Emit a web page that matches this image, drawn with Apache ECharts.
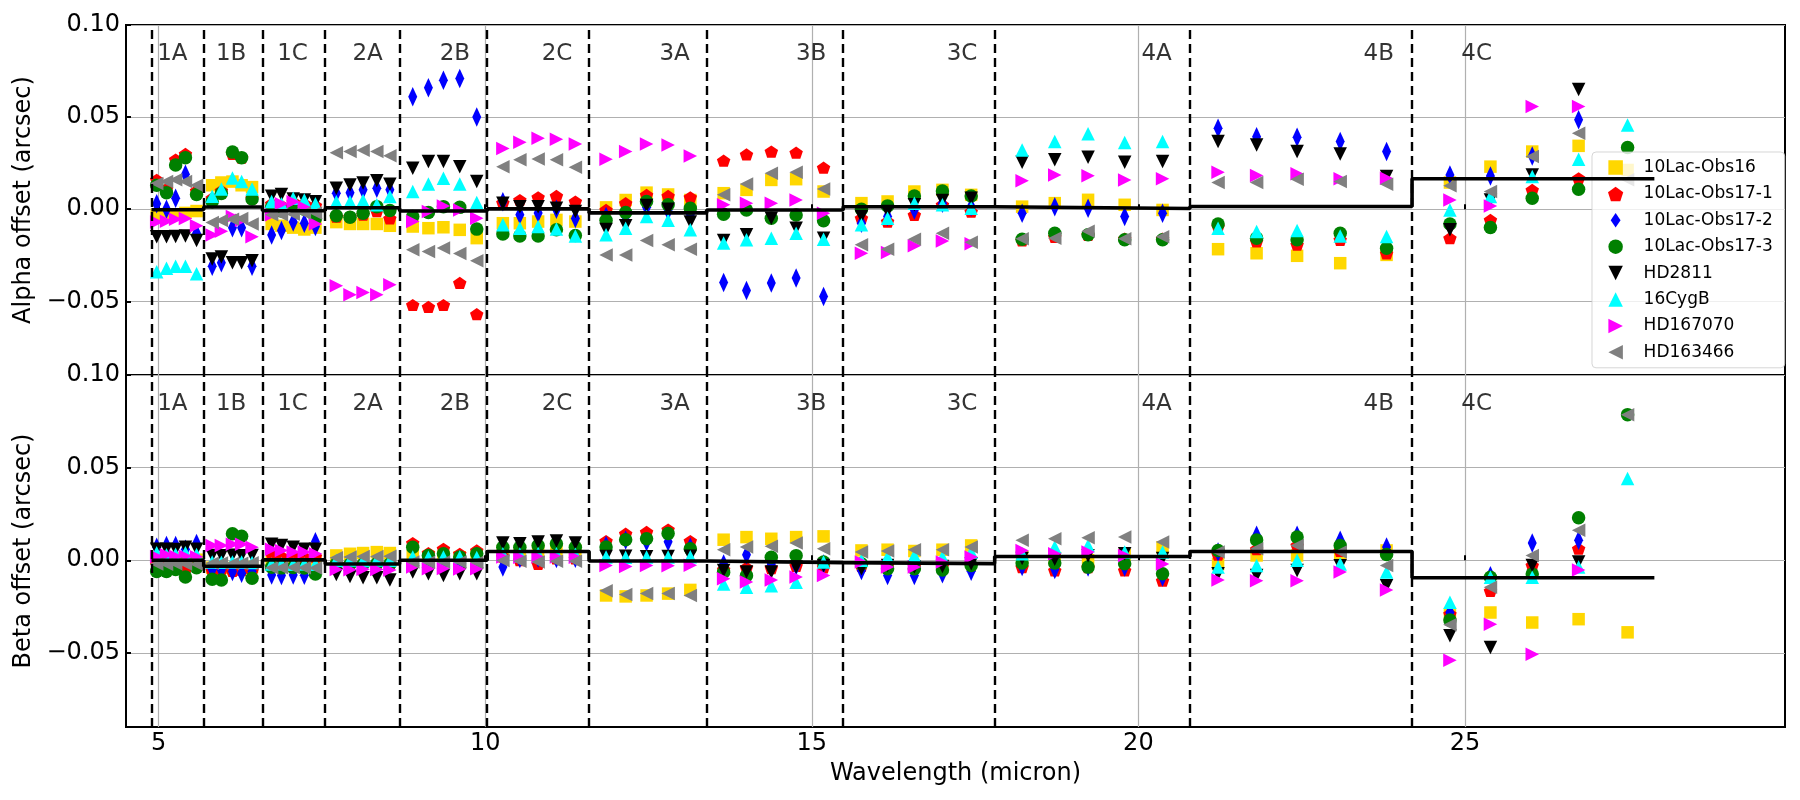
<!DOCTYPE html>
<html><head><meta charset="utf-8">
<script src="https://cdn.jsdelivr.net/npm/echarts@6/dist/echarts.min.js"></script>
<style>html,body{margin:0;padding:0;background:#fff}#chart{width:1800px;height:800px}</style>
</head><body><div id="chart"></div>
<script>
// ---------------- data ----------------
const seriesNames = ['10Lac-Obs16','10Lac-Obs17-1','10Lac-Obs17-2','10Lac-Obs17-3','HD2811','16CygB','HD167070','HD163466'];
const bandNames = ['1A','1B','1C','2A','2B','2C','3A','3B','3C','4A','4B','4C'];
const bandEdges = [4.89,5.69,6.59,7.55,8.69,10.03,11.59,13.39,15.48,17.80,20.79,24.19,27.90];
const bandLabelX = [5.21,6.11,7.05,8.20,9.535,11.10,12.90,14.99,17.30,20.28,23.68,25.18];
const bandLabelY = 0.0845;
const xTicks = [5,10,15,20,25];
const yTicks = [-0.05,0,0.05,0.10];

const wavelength = [
 4.97,5.12,5.26,5.41,5.58,  5.82,5.96,6.13,6.27,6.43,  6.73,6.88,7.06,7.23,7.40,
 7.72,7.93,8.13,8.34,8.54,  8.89,9.13,9.36,9.61,9.87,  10.27,10.53,10.81,11.09,11.38,
 11.85,12.15,12.47,12.80,13.14,  13.65,14.00,14.38,14.76,15.18,  15.76,16.16,16.57,17.00,17.44,
 18.22,18.72,19.23,19.79,20.37,  21.22,21.81,22.43,23.09,23.80,  24.77,25.39,26.03,26.74,27.49];

// Alpha offsets (arcsec)
const alphaObs16 = [
 -0.003,-0.003,-0.003,-0.002,-0.001,  0.013,0.0145,0.015,0.013,0.012,  -0.008,-0.009,-0.010,-0.011,-0.010,
 -0.007,-0.008,-0.008,-0.008,-0.009,  -0.0094,-0.0103,-0.0098,-0.0112,-0.0157,  -0.0076,-0.0076,-0.0067,-0.0058,-0.0067,
 0.001,0.005,0.009,0.008,0.005,  0.0087,0.0105,0.0159,0.0163,0.0096,  0.0033,0.0042,0.0096,0.0105,0.0078,
 0.0014,0.0033,0.0051,0.0024,-0.0004,  -0.0217,-0.0239,-0.0253,-0.0293,-0.0248,  0.0145,0.0231,0.0313,0.0344,0.0213];
const alphaObs17_1 = [
 0.016,0.011,0.027,0.030,0.010,  0.006,0.010,0.030,0.028,0.006,  0.003,0.002,0.004,0.003,0.002,
 -0.004,-0.004,-0.003,-0.001,-0.005,  -0.052,-0.053,-0.052,-0.040,-0.057,  0.0036,0.005,0.0065,0.0072,0.0042,
 -0.0004,0.0033,0.0078,0.0072,0.0065,  0.0264,0.0298,0.0313,0.0307,0.0226,  -0.0049,-0.0067,-0.0031,0.0024,-0.0013,
 -0.017,-0.015,-0.014,-0.016,-0.016,  -0.0094,-0.0175,-0.0193,-0.0166,-0.0240,  -0.0157,-0.0058,0.0105,0.0168,null];
const alphaObs17_2 = [
 0.003,0.000,0.006,0.019,-0.013,  -0.031,-0.029,-0.010,-0.010,-0.031,  -0.014,-0.0116,-0.007,-0.0076,-0.0094,
 0.0087,0.009,0.0105,0.0114,0.0105,  0.061,0.066,0.070,0.071,0.050,  0.004,-0.003,-0.002,0.000,-0.005,
 -0.004,-0.004,0.001,-0.001,-0.003,  -0.0398,-0.0441,-0.0401,-0.0374,-0.0474,  -0.0076,-0.004,-0.0004,0.0033,0.0014,
 -0.0022,0.0014,0.0005,-0.004,-0.0022,  0.0439,0.0394,0.039,0.0367,0.0313,  0.0186,0.0180,0.0289,0.0485,null];
const alphaObs17_3 = [
 0.013,0.009,0.024,0.028,0.008,  0.004,0.0085,0.031,0.028,0.0055,  0.001,-0.001,0.002,0.000,-0.005,
 -0.0036,-0.0043,-0.0022,0.0014,-0.0007,  -0.004,-0.0018,0.0014,0.001,-0.0108,  -0.0134,-0.0145,-0.0145,-0.0112,-0.0143,
 -0.006,-0.0018,0.0042,0.0024,0.0005,  -0.0027,-0.0004,-0.0049,-0.0031,-0.0063,  0.000,0.0018,0.0072,0.0099,0.0072,
 -0.0163,-0.013,-0.0139,-0.0166,-0.0166,  -0.008,-0.0157,-0.0166,-0.013,-0.0212,  -0.008,-0.0099,0.006,0.0108,0.0335];
const alphaHD2811 = [
 -0.015,-0.015,-0.0148,-0.0146,-0.017,  -0.027,-0.026,-0.029,-0.029,-0.028,  0.007,0.008,0.0055,0.005,0.004,
 0.0114,0.0132,0.0142,0.0155,0.0135,  0.0222,0.0259,0.0259,0.0231,0.015,  0.0033,0.0014,0.0014,0.0005,-0.0013,
 -0.011,-0.009,0.002,0.000,-0.007,  -0.017,-0.0139,-0.0049,-0.0103,-0.0157,  -0.004,-0.0013,0.0024,0.0047,0.006,
 0.0255,0.0268,0.0282,0.0255,0.0259,  0.0367,0.0349,0.0313,0.030,0.0177,  -0.0112,0.005,0.0186,0.065,null];
const alpha16CygB = [
 -0.034,-0.032,-0.031,-0.031,-0.035,  0.007,0.011,0.017,0.015,0.011,  0.0042,0.003,0.006,0.005,0.003,
 0.004,0.004,0.0047,0.0024,0.0069,  0.0096,0.0137,0.0168,0.0137,0.0036,  -0.0085,-0.0103,-0.0094,-0.0108,-0.0145,
 -0.0139,-0.0103,-0.004,-0.006,-0.0112,  -0.0184,-0.0166,-0.0157,-0.013,-0.0163,  -0.0085,-0.0049,0.0033,0.0024,0.0005,
 0.0322,0.0367,0.0409,0.0362,0.0367,  -0.0103,-0.0121,-0.0116,-0.0145,-0.0148,  -0.0004,0.0069,0.0177,0.0271,0.0457];
const alphaHD167070 = [
 -0.007,-0.0065,-0.0055,-0.005,-0.009,  -0.014,-0.012,-0.004,-0.006,-0.015,  -0.003,0.003,0.004,0.001,-0.008,
 -0.0416,-0.0465,-0.0452,-0.0465,-0.041,  -0.0067,-0.0013,0.0018,-0.0004,-0.0049,  0.033,0.0363,0.0385,0.038,0.0354,
 0.0271,0.0313,0.0354,0.0349,0.0289,  0.0024,0.0033,0.0033,0.005,-0.0022,  -0.0239,-0.0235,-0.0199,-0.0172,-0.0188,
 0.0154,0.0186,0.0181,0.0159,0.0165,  0.020,0.0183,0.0192,0.0165,0.0168,  0.005,0.0018,0.0557,0.0557,null];
const alphaHD163466 = [
 0.014,0.015,0.016,0.015,0.013,  -0.0072,-0.0061,-0.0054,-0.005,-0.008,  -0.003,-0.003,-0.0028,-0.002,-0.002,
 0.0307,0.0313,0.032,0.0313,0.029,  -0.022,-0.023,-0.021,-0.024,-0.028,  0.0231,0.0268,0.0273,0.0268,0.0228,
 -0.0248,-0.0248,-0.017,-0.0193,-0.0217,  0.0078,0.0137,0.0195,0.0201,0.011,  -0.0193,-0.0217,-0.0163,-0.013,-0.018,
 -0.016,-0.0157,-0.012,-0.016,-0.015,  0.0145,0.0145,0.0163,0.015,0.0136,  0.0127,0.0096,0.0286,0.0412,0.016];

// Beta offsets (arcsec)
const betaObs16 = [
 0.001,0.0012,0.001,0.000,0.0003,  -0.004,-0.0038,-0.0042,-0.004,-0.0036,  -0.001,-0.0012,-0.0008,-0.001,-0.0014,
 0.0026,0.0035,0.0039,0.0044,0.0039,  0.0022,0.0018,0.002,0.0016,0.0021,  0.005,0.0047,0.0052,0.0049,0.0051,
 -0.019,-0.0195,-0.019,-0.018,-0.016,  0.0111,0.0125,0.0116,0.0125,0.0129,  0.0053,0.0057,0.005,0.0057,0.008,
 0.002,0.001,0.000,0.003,0.007,  -0.002,0.0026,0.0026,0.0035,0.0053,  -0.029,-0.0282,-0.0336,-0.0318,-0.0389];
const betaObs17_1 = [
 -0.002,-0.003,-0.002,-0.005,-0.003,  -0.0055,-0.005,-0.0058,-0.0052,-0.0056,  0.0035,0.002,0.0022,0.0018,0.002,
 -0.002,-0.0018,-0.0022,-0.002,-0.0024,  0.0093,0.0039,0.0062,0.0035,0.0053,  0.002,0.000,-0.002,0.001,0.001,
 0.0104,0.0144,0.0153,0.0166,0.0104,  -0.005,-0.004,-0.0042,-0.003,-0.0038,  -0.003,-0.0028,-0.0032,-0.003,-0.0026,
 -0.0037,-0.0055,-0.0037,-0.0055,-0.011,  0.003,0.006,0.008,0.005,0.004,  -0.029,-0.0165,-0.0028,0.0062,null];
const betaObs17_2 = [
 0.007,0.008,0.008,0.006,0.009,  -0.005,-0.0052,-0.006,-0.007,-0.006,  -0.008,-0.0082,-0.0079,-0.0081,0.010,
 -0.0022,-0.002,-0.0018,-0.0021,-0.0019,  -0.0021,-0.0018,-0.0022,-0.002,-0.0017,  -0.0037,0.001,0.0012,0.0009,0.0011,
 0.008,0.011,0.010,0.010,0.007,  -0.002,0.003,-0.002,-0.003,-0.002,  -0.0055,-0.0082,-0.0082,-0.0073,-0.0059,
 -0.0034,-0.005,-0.0037,-0.0037,-0.009,  0.0044,0.0135,0.0135,0.0108,0.0071,  -0.0282,-0.0083,0.0093,0.0108,null];
const betaObs17_3 = [
 -0.006,-0.006,-0.005,-0.009,-0.004,  -0.0103,-0.0106,0.0143,0.013,-0.0097,  -0.0038,-0.0041,-0.0039,-0.0042,-0.0074,
 -0.0019,-0.0022,-0.0021,-0.0018,-0.002,  0.007,0.0026,0.0035,0.0017,0.0035,  0.007,0.007,0.008,0.0089,0.007,
 0.0071,0.0111,0.0116,0.0144,0.0062,  -0.0065,-0.0083,0.0016,0.0025,-0.001,  -0.0019,-0.0046,-0.0046,-0.0052,-0.0028,
 -0.0015,-0.0015,-0.0037,-0.0019,-0.0073,  0.0053,0.011,0.0125,0.008,0.0031,  -0.0323,-0.0092,-0.0074,0.023,0.0786];
const betaHD2811 = [
 0.006,0.006,0.0058,0.007,0.006,  0.0026,0.0024,0.0027,0.0025,0.0026,  0.0086,0.008,0.007,0.006,0.006,
 -0.0077,-0.0088,-0.0095,-0.0095,-0.0106,  -0.0064,-0.0073,-0.0082,-0.0073,-0.0073,  0.0093,0.0089,0.0098,0.0104,0.0093,
 0.002,0.0021,0.0019,0.002,0.0022,  -0.0055,-0.0064,-0.0064,-0.0037,-0.0028,  -0.0046,-0.0028,-0.0037,-0.0033,-0.0019,
 0.001,0.0005,0.0025,0.0035,0.001,  -0.0073,-0.0082,-0.0055,-0.003,-0.0137,  -0.0408,-0.0471,-0.0028,-0.001,null];
const beta16CygB = [
 0.004,0.003,0.0032,0.004,0.0031,  -0.001,-0.0011,-0.0009,-0.001,-0.0012,  -0.002,-0.0019,-0.0021,-0.002,-0.0022,
 0.000,0.0002,-0.0001,0.0001,0.000,  0.0017,0.0016,0.0018,0.0017,0.0015,  0.0035,0.0034,0.0036,0.0035,0.0033,
 0.0017,0.0016,0.0018,0.0017,0.0019,  -0.0128,-0.0146,-0.0137,-0.0119,-0.001,  0.000,0.0017,0.0026,0.0017,0.0044,
 0.0035,0.0071,0.008,0.0044,0.0044,  -0.0037,-0.0028,0.000,-0.002,-0.0064,  -0.0227,-0.0092,-0.0092,-0.0037,0.0442];
const betaHD167070 = [
 0.002,0.003,0.0022,0.0021,0.0019,  0.008,0.008,0.0086,0.0086,0.007,  0.006,0.0053,0.0044,0.0044,0.0035,
 -0.005,-0.0051,-0.0049,-0.005,-0.0052,  -0.0037,-0.0046,-0.0045,-0.0047,-0.0046,  0.0017,0.0016,0.0018,0.0017,0.0016,
 -0.0028,-0.0034,-0.0028,-0.0029,-0.0027,  -0.010,-0.0118,-0.0106,-0.0091,-0.0082,  -0.001,-0.0037,-0.0037,-0.001,0.0017,
 0.0053,0.0035,0.0044,0.0026,-0.002,  -0.0106,-0.011,-0.011,-0.0064,-0.016,  -0.054,-0.0345,-0.0507,-0.0052,null];
const betaHD163466 = [
 -0.002,-0.0021,-0.0019,-0.002,-0.0022,  -0.0016,-0.0015,-0.0017,-0.0016,-0.0014,  -0.004,-0.0041,-0.0039,-0.004,-0.0042,
 0.0013,0.0017,0.002,0.002,0.0021,  -0.001,-0.0011,-0.0009,-0.001,-0.0012,  -0.0001,-0.0005,-0.001,-0.0005,-0.0006,
 -0.0165,-0.0185,-0.018,-0.018,-0.019,  0.0057,0.0071,0.0075,0.0093,0.0062,  0.0044,0.005,0.0057,0.0057,0.0071,
 0.0108,0.0116,0.0122,0.0126,0.0098,  0.0044,0.0062,0.008,0.0044,-0.0028,  -0.0348,-0.0146,0.0026,0.0162,0.0786];

const alphaBandMean = [-0.0003,0.0012,-0.0008,0.0008,-0.001,0.0002,-0.002,-0.0004,0.0013,0.0004,0.0015,0.0165];
const betaBandMean  = [0.000,-0.0032,0.0002,-0.002,0.000,0.0047,-0.0004,-0.0013,-0.0018,0.002,0.0047,-0.0094];

// ---------------- styling ----------------
const FONT = 'DejaVu Sans';
const colors = ['#FFD700','#FF0000','#0000FF','#008000','#000000','#00FFFF','#FF00FF','#808080'];
const symbols = [
  'path://M-1,-1 L1,-1 L1,1 L-1,1 Z',
  'path://M0,-1 L0.951,-0.309 L0.588,0.809 L-0.588,0.809 L-0.951,-0.309 Z',
  'path://M0,-1 L0.68,0 L0,1 L-0.68,0 Z',
  'path://M1,0 A1,1 0 1 1 -1,0 A1,1 0 1 1 1,0 Z',
  'path://M-1,-1 L1,-1 L0,1 Z',
  'path://M0,-1 L1,1 L-1,1 Z',
  'path://M-1,-1 L1,0 L-1,1 Z',
  'path://M1,-1 L-1,0 L1,1 Z'
];
const symbolSizes = [[12.5,12.5],[13.5,12.8],[13.2,19.5],[13.5,13.5],[13.5,13.5],[13.5,13.5],[13.5,13.5],[13.5,13.5]];

const alphaSets = [alphaObs16,alphaObs17_1,alphaObs17_2,alphaObs17_3,alphaHD2811,alpha16CygB,alphaHD167070,alphaHD163466];
const betaSets  = [betaObs16,betaObs17_1,betaObs17_2,betaObs17_3,betaHD2811,beta16CygB,betaHD167070,betaHD163466];

function points(vals){
  const out = [];
  wavelength.forEach((w,i)=>{ if(vals[i]!==null && vals[i]!==undefined) out.push([w, vals[i]]); });
  return out;
}
function stepLine(means){
  const out = [];
  means.forEach((m,i)=>{ out.push([bandEdges[i], m]); out.push([bandEdges[i+1], m]); });
  return out;
}
const yFmt = v => (v < -1e-9 ? '\u2212' : '') + Math.abs(v).toFixed(2);

const grids = [
  {left:126, right:15, top:25, height:350, show:true, borderColor:'#000', borderWidth:2, backgroundColor:'rgba(0,0,0,0)'},
  {left:126, right:15, top:375, height:352, show:true, borderColor:'#000', borderWidth:2, backgroundColor:'rgba(0,0,0,0)'}
];
function xAxis(gi){
  return {
    type:'value', gridIndex:gi, min:4.5, max:29.9,
    axisLine:{show:false},
    axisTick:{show:true, inside:true, length:5, customValues:xTicks, lineStyle:{color:'#000', width:2}},
    axisLabel:{show:gi===1, customValues:xTicks, color:'#000', fontFamily:FONT, fontSize:24, margin:5},
    splitLine:{show:true, lineStyle:{color:'#b0b0b0', width:1.2}},
    name: gi===1 ? 'Wavelength (micron)' : '',
    nameLocation:'middle', nameGap:35,
    nameTextStyle:{color:'#000', fontFamily:FONT, fontSize:24}
  };
}
function yAxis(gi, name){
  return {
    type:'value', gridIndex:gi, min:-0.09, max:0.10,
    axisLine:{show:false},
    axisTick:{show:true, inside:true, length:5, customValues:yTicks, lineStyle:{color:'#000', width:2}},
    axisLabel:{show:true, customValues:yTicks, formatter:yFmt, color:'#000', fontFamily:FONT, fontSize:24, margin:6},
    splitLine:{show:true, lineStyle:{color:'#b0b0b0', width:1.2}},
    name:name, nameLocation:'middle', nameGap:86,
    nameTextStyle:{color:'#000', fontFamily:FONT, fontSize:24}
  };
}

const series = [];
[alphaSets, betaSets].forEach((sets, gi)=>{
  sets.forEach((vals, k)=>{
    series.push({
      type:'scatter', name:seriesNames[k], xAxisIndex:gi, yAxisIndex:gi,
      data:points(vals), symbol:symbols[k], symbolSize:symbolSizes[k], symbolKeepAspect:true,
      itemStyle:{color:colors[k], opacity:1}, z:2, silent:true
    });
  });
  const means = gi===0 ? alphaBandMean : betaBandMean;
  series.push({
    type:'line', name:'bandMean'+gi, xAxisIndex:gi, yAxisIndex:gi, data:stepLine(means),
    symbol:'none', lineStyle:{color:'#000', width:3.6}, z:4, silent:true,
    markLine:{
      silent:true, symbol:['none','none'], label:{show:false},
      lineStyle:{color:'#000', width:2.4, type:[9,5]},
      data: bandEdges.slice(0, bandNames.length).map(e=>({xAxis:e}))
    }
  });
  series.push({
    type:'scatter', name:'bandLabels'+gi, xAxisIndex:gi, yAxisIndex:gi,
    data: bandNames.map((b,i)=>({name:b, value:[bandLabelX[i], bandLabelY]})),
    symbol:'circle', symbolSize:1, itemStyle:{color:'rgba(0,0,0,0)'}, silent:true, z:5,
    label:{show:true, position:'inside', formatter:p=>p.name, color:'#000', fontFamily:FONT, fontSize:23}
  });
});

const option = {
  animation:false,
  backgroundColor:'#fff',
  textStyle:{fontFamily:FONT},
  grid:grids,
  xAxis:[xAxis(0), xAxis(1)],
  yAxis:[yAxis(0,'Alpha offset (arcsec)'), yAxis(1,'Beta offset (arcsec)')],
  legend:{
    data:seriesNames.map(n=>({name:n})), orient:'vertical', left:1592, top:152,
    itemWidth:46, itemHeight:14.5, itemGap:9.4, padding:[7,12,7,16],
    symbolKeepAspect:true, selectedMode:false,
    backgroundColor:'rgba(255,255,255,0.8)', borderColor:'rgba(204,204,204,0.8)', borderWidth:1, borderRadius:4,
    textStyle:{color:'#000', fontFamily:FONT, fontSize:17, lineHeight:17}
  },
  series:series
};
const chart = echarts.init(document.getElementById('chart'), null, {renderer:'canvas'});
chart.setOption(option);
</script></body></html>
